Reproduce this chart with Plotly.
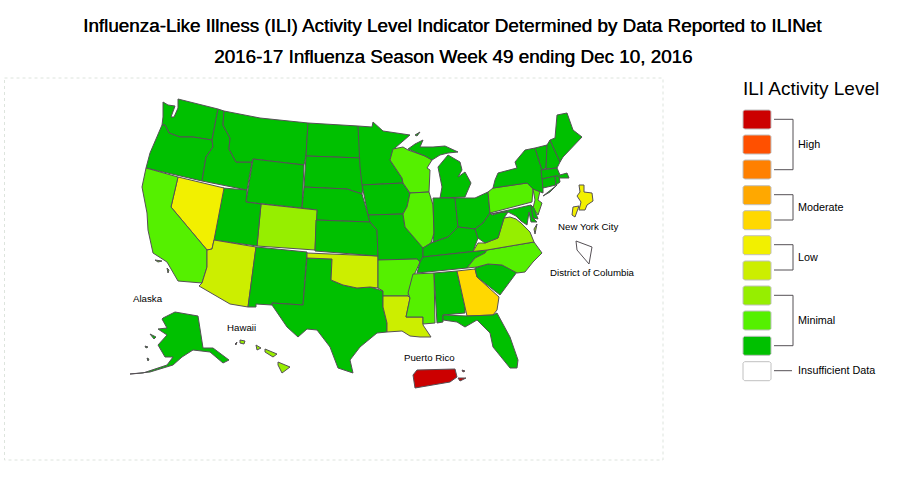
import plotly.graph_objects as go

TITLE_1 = "Influenza-Like Illness (ILI) Activity Level Indicator Determined by Data Reported to ILINet"
TITLE_2 = "2016-17 Influenza Season Week 49 ending Dec 10, 2016"

level_colors = {10: "#CC0000", 9: "#FF5000", 8: "#FF8000", 7: "#FFA800", 6: "#FFD800",
                5: "#F2F000", 4: "#CCEE00", 3: "#96EE00", 2: "#55F000", 1: "#00C000", 0: "#FFFFFF"}
legend_levels = [10, 9, 8, 7, 6, 5, 4, 3, 2, 1, 0]
legend_groups = ["High", "Moderate", "Low", "Minimal"]

level_1 = ["WA","OR","ID","MT","WY","ND","SD","NE","KS","MN","IA","MO","MI","IN","OH","KY","TN","WV",
           "NM","TX","UT","AL","FL","SC","MD","DE","NY","VT","NH","ME","MA","CT","RI","AK"]
level_2 = ["CA","WI","IL","AR","MS","PA","NJ","NC"]
level_3 = ["CO","VA","HI"]
level_4 = ["AZ","OK","LA"]
level_5 = ["NV","NYC"]
level_6 = ["GA"]
level_10 = ["PR"]
level_0 = ["DC"]

# Outline geometry of the map, traced in image space
S = {
"WA":[[(163,102),(168,105),(175,106),(171,117),(174,117),(178,108),(178,99),(218,109),(212,140),(193,137),(180,137),(169,133),(165,125),(162,125),(163,117)]],
"OR":[[(162,125),(165,125),(169,133),(180,137),(193,137),(212,140),(213,147),(206,157),(202,181),(146,168),(150,153),(157,137)]],
"ID":[[(218,109),(224,111),(223,125),(230,138),(229,149),(236,162),(252,162),(247,190),(202,181),(206,157),(213,147),(212,140)]],
"MT":[[(224,111),(260,118),(308,123),(306,156),(304,165),(253,159),(252,162),(236,162),(229,149),(230,138),(223,125)]],
"WY":[[(253,159),(304,165),(302,208),(246,202)]],
"ND":[[(308,123),(358,126),(362,158),(306,156)]],
"SD":[[(306,156),(362,158),(361,162),(363,187),(362,194),(347,189),(304,187)]],
"NE":[[(304,187),(347,189),(362,194),(368,215),(370,222),(316,220),(317,210),(302,208)]],
"CO":[[(261,204),(317,210),(315,250),(257,246)]],
"UT":[[(223,188),(247,190),(246,202),(261,204),(257,246),(214,240)]],
"NV":[[(178,177),(224,188),(214,240),(212,249),(207,250),(171,207)]],
"CA":[[(146,168),(178,177),(171,207),(207,250),(207,267),(202,283),(178,281),(167,262),(153,253),(148,230),(147,213),(142,187)],
      [(155,260),(162,261),(158,262)],[(167,268),(169,270),(168,273)]],
"AZ":[[(214,240),(256,247),(248,307),(230,304),(199,286),(202,283),(207,267),(207,250),(212,249)]],
"NM":[[(256,247),(307,252),(303,305),(272,303),(272,305),(256,304),(256,307),(248,307)]],
"TX":[[(307,258),(332,259),(331,280),(343,285),(357,288),(370,287),(383,291),(383,307),(387,323),(387,332),(377,333),(360,347),(350,360),(353,373),(338,368),(330,347),(317,330),(307,329),(298,337),(287,327),(272,305),(272,303),(303,305)]],
"OK":[[(307,253),(378,256),(378,288),(370,287),(357,288),(343,285),(331,280),(332,259),(307,258)]],
"KS":[[(316,220),(370,222),(377,230),(378,256),(315,251)]],
"MN":[[(358,126),(372,127),(373,122),(383,131),(410,135),(395,148),(390,160),(402,178),(403,183),(362,185),(360,167)]],
"IA":[[(362,185),(403,183),(410,194),(407,207),(403,214),(368,215),(363,190)]],
"MO":[[(368,215),(403,214),(405,227),(423,247),(423,257),(420,262),(417,259),(378,260),(378,256),(377,230),(370,222)]],
"AR":[[(378,260),(417,259),(420,262),(415,273),(410,288),(408,296),(383,296),(383,291),(378,288)]],
"LA":[[(383,296),(408,296),(410,298),(406,317),(423,317),(423,325),(431,337),(420,337),(410,336),(402,331),(387,332),(387,323),(383,307)]],
"WI":[[(393,149),(403,147),(408,150),(425,156),(432,160),(427,168),(430,170),(429,192),(410,193),(403,183),(402,178),(390,160)]],
"IL":[[(410,193),(429,192),(433,205),(434,233),(431,243),(423,248),(405,227),(403,214),(407,207)]],
"MI":[[(408,149),(415,144),(423,140),(420,147),(433,147),(445,146),(458,152),(448,153),(440,155),(432,160),(425,156)],
      [(415,135),(420,132),(417,136)],
      [(448,155),(460,162),(462,170),(458,177),(465,172),(471,183),(465,197),(440,198),(442,187),(438,167)]],
"IN":[[(433,198),(455,198),(458,227),(448,237),(433,242),(434,233)]],
"OH":[[(455,198),(467,198),(475,198),(488,192),(490,213),(483,223),(475,229),(458,227)]],
"KY":[[(431,243),(448,237),(458,227),(475,229),(478,238),(473,251.5),(423,257),(423,248)]],
"TN":[[(423,257),(473,251.5),(487,250),(485,253),(475,258),(467,268),(417,273),(420,262)]],
"MS":[[(413,274),(434,273),(435,323),(423,324),(423,317),(406,317),(410,298),(408,293)]],
"AL":[[(434,273),(457,271),(465,307),(465,313),(443,315),(443,322),(437,323)]],
"GA":[[(457,271),(475,269),(477,277),(499,297),(497,310),(493,315),(467,316),(465,307)]],
"FL":[[(443,315),(467,316),(493,315),(497,313),(510,337),(518,360),(517,368),(510,368),(493,347),(490,333),(477,320),(465,327),(457,322),(443,320)]],
"SC":[[(475,268),(488,264),(502,265),(517,272),(500,295),(477,277)]],
"NC":[[(467,268),(475,258),(485,253),(487,250),(534,242),(542,253),(533,262),(525,272),(517,273),(502,265),(488,264),(477,267)]],
"VA":[[(473,251.5),(478,243),(485,243),(498,238),(504,218),(510,217),(516,219),(521,223),(526,228),(530,232),(534,242),(487,250)],[(537,224),(535,234),(534,229)]],
"WV":[[(490,213),(492,215),(502,212),(508,212),(504,218),(498,238),(485,243),(478,238),(475,229),(483,223)]],
"PA":[[(488,192),(493,188),(527,183),(533,189),(532,202),(490,213)]],
"NJ":[[(533,189),(540,191),(538,200),(542,203),(538,215),(533,208),(535,200)]],
"MD":[[(491,214),(531,205),(533,218),(537,222),(531,222),(529,212),(527,225),(521,221),(516,216),(508,212),(503,212)]],
"DE":[[(531,205),(534,208),(538,219),(533,218)]],
"NY":[[(493,188),(495,180),(498,173),(517,168),(515,162),(525,150),(535,148),(542,170),(543,188),(543,193),(533,189),(527,183)],
      [(543,196),(557,185),(550,192)]],
"VT":[[(535,148),(547,145),(546,168),(542,170)]],
"NH":[[(547,145),(550,140),(560,162),(557,168),(546,169)]],
"ME":[[(550,140),(555,138),(557,115),(567,113),(573,130),(582,137),(563,157),(560,162)]],
"MA":[[(541,170),(557,168),(560,175),(567,173),(569,178),(560,178),(557,176),(542,179)]],
"CT":[[(542,179),(555,176),(556,185),(543,188)]],
"RI":[[(555,176),(559,176),(560,182),(556,185)]],
"AK":[[(163,318),(175,312),(198,316),(203,348),(213,348),(229,360),(223,363),(210,352),(193,350),(182,357),(173,365),(150,372),(130,374),(143,373),(167,365),(173,357),(165,357),(158,345),(167,335),(158,329),(167,328),(162,319)],
      [(150,334),(156,337),(154,339)],[(145,346),(148,347),(146,348)],[(147,358),(149,359),(148,361)]],
"HI":[[(278,362),(290,367),(282,373),(278,365)],[(265,349),(277,354),(273,357),(265,352)],
      [(256,345),(261,348),(257,350)],[(240,340),(245,341),(244,344),(240,343)],[(235,344),(237,342),(236,345)]],
"PR":[[(413,375),(417,370),(455,369),(457,377),(450,382),(415,388)],[(458,378),(466,378),(460,381)],[(462,370),(465,371),(463,372)]],
"NYC":[[(579,185),(584,185),(584,192),(592,193),(593,201),(587,205),(585,210),(579,210),(581,202),(577,196),(580,192)],
       [(573,207),(579,206),(575,217),(572,215)]],
"DC":[[(576,241),(592,247),(589,264),(577,250)]],
}

# Swatch rows and their brackets on the legend
swatch_tops = [110, 135, 160, 185.7, 210.7, 235.7, 261, 286, 311, 336.3, 361.7]
brackets = [(119.3, 169.7), (194.7, 220), (244.7, 270), (295.3, 345.7)]
bracket_label_y = [144, 207, 257, 320]

place_labels = [("New York City", 588, 226), ("District of Columbia", 592, 272),
                ("Alaska", 148, 298), ("Hawaii", 241, 327), ("Puerto Rico", 429, 357)]

level_of = {}
for lv, names in [(1, level_1), (2, level_2), (3, level_3), (4, level_4), (5, level_5),
                  (6, level_6), (10, level_10), (0, level_0)]:
    for n in names:
        level_of[n] = lv

fig = go.Figure()
BORDER = "#555055"

for name, parts in S.items():
    xs, ys = [], []
    for p in parts:
        xs += [q[0] for q in p] + [p[0][0], None]
        ys += [q[1] for q in p] + [p[0][1], None]
    fig.add_trace(go.Scatter(x=xs, y=ys, mode="lines", fill="toself", name=name,
                             fillcolor=level_colors[level_of[name]],
                             line=dict(color=BORDER, width=1), hoverinfo="name", showlegend=False))

# legend swatches
for lv, top in zip(legend_levels, swatch_tops):
    l, r, b = 743, 771, top + 19
    xs = [l+1.5, r-1.5, r, r, r-1.5, l+1.5, l, l, l+1.5]
    ys = [top, top, top+1.5, b-1.5, b, b, b-1.5, top+1.5, top]
    fig.add_trace(go.Scatter(x=xs, y=ys, mode="lines", fill="toself", fillcolor=level_colors[lv],
                             line=dict(color="#C0C0C0", width=1), showlegend=False, hoverinfo="skip"))

for (y0, y1) in brackets:
    fig.add_trace(go.Scatter(x=[774, 793, 793, 774], y=[y0, y0, y1, y1], mode="lines",
                             line=dict(color=BORDER, width=1), showlegend=False, hoverinfo="skip"))
fig.add_trace(go.Scatter(x=[774, 792], y=[370.7, 370.7], mode="lines",
                         line=dict(color=BORDER, width=1), showlegend=False, hoverinfo="skip"))

FONT = "Liberation Sans, Arial, sans-serif"
def note(text, x, y, size, anchor="center", shadow=None):
    f = dict(family=FONT, size=size, color="#000000")
    if shadow:
        f["shadow"] = shadow
    fig.add_annotation(x=x, y=y, text=text, showarrow=False, xanchor=anchor, yanchor="middle", font=f)

note(TITLE_1, 452.5, 25, 18.85, shadow="0.4px 0 0 #000000")
note(TITLE_2, 452.5, 56, 18.85, shadow="0.4px 0 0 #000000")
note("ILI Activity Level", 811, 88, 19)
for g, y in zip(legend_groups, bracket_label_y):
    note(g, 796, y, 10.8, "left")
note("Insufficient Data", 796, 370, 10.8, "left")
for t, x, y in place_labels:
    note(t, x, y, 9.7)

fig.add_shape(type="rect", x0=4.5, y0=78, x1=663, y1=460,
              line=dict(color="#DDE4DD", width=1, dash="dot"), layer="below")

fig.update_xaxes(range=[0, 906], visible=False, fixedrange=True)
fig.update_yaxes(range=[500, 0], visible=False, fixedrange=True)
fig.update_layout(width=906, height=500, margin=dict(l=0, r=0, t=0, b=0),
                  plot_bgcolor="white", paper_bgcolor="white", showlegend=False)
fig.write_html("out.html", config={"displayModeBar": False},
               post_script="document.body.style.margin='0';document.documentElement.style.overflow='hidden';")
